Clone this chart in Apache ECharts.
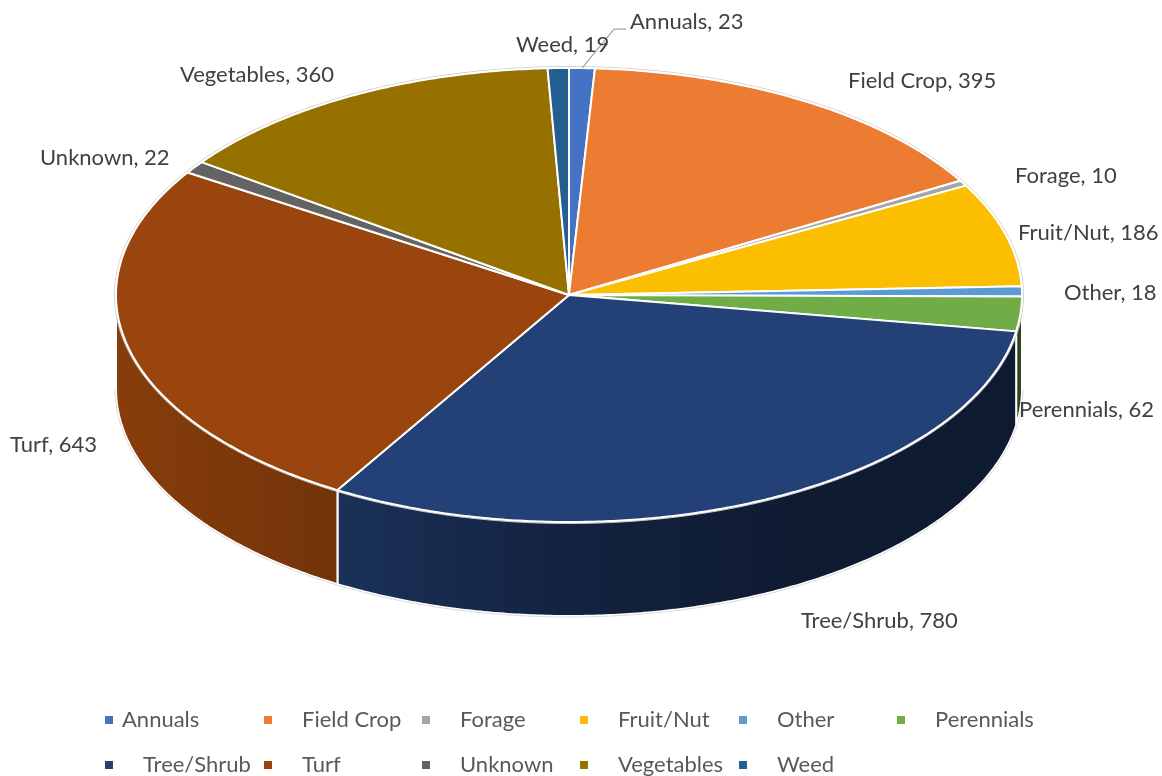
<!DOCTYPE html>
<html>
<head>
<meta charset="utf-8">
<title>Pie</title>
<script src="https://cdn.jsdelivr.net/npm/echarts@6/dist/echarts.min.js"></script>
<style>
    html, body { margin: 0; padding: 0; background: #fff; }
    #main { width: 1162px; height: 776px; }
</style>
</head>
<body>
<div id="main"></div>
<script>
'use strict';

var categories = ['Annuals', 'Field Crop', 'Forage', 'Fruit/Nut', 'Other', 'Perennials', 'Tree/Shrub', 'Turf', 'Unknown', 'Vegetables', 'Weed'];
var counts = [23, 395, 10, 186, 18, 62, 780, 643, 22, 360, 19];
var colors = ['#4472C4', '#EB7C31', '#A5A5A5', '#FBBE00', '#5B9BD5', '#70AD47', '#244177', '#99450D', '#636363', '#967100', '#255E91'];

// where the data labels sit, left edge and middle of the text
var labelSpots = [[630, 22], [848, 81], [1015, 176], [1018, 233], [1064, 293], [1019, 410], [801, 621], [10, 445], [40, 158], [180, 75], [516, 45]];
// legend icon left, row middle, gap before the text
var legendSpots = [[105, 720, 4], [264, 720, 25], [422, 720, 25], [580, 720, 25], [739, 720, 25], [897, 720, 25],
    [105, 765, 25], [264, 765, 25], [422, 765, 25], [580, 765, 25], [739, 765, 25]];

var cx = 569, cy = 295, rx = 453, ry = 227, depth = 94;
var fontName = 'Lato, "Open Sans", sans-serif';

var total = counts.reduce(function(a, b){ return a + b; }, 0);

function pointAt(deg, dy, extra){
    var a = deg * Math.PI / 180;
    return [cx + (rx + (extra || 0)) * Math.sin(a), cy + (dy || 0) - (ry + (extra || 0)) * Math.cos(a)];
}

function arcPoints(from, to, dy, extra){
    var pts = [];
    var steps = Math.max(2, Math.ceil((to - from) * 2));
    for(var i = 0; i <= steps; i++){
        pts.push(pointAt(from + (to - from) * i / steps, dy, extra));
    }
    return pts;
}

function shaded(color, k){
    var c = echarts.color.parse(color);
    return 'rgb(' + Math.round(c[0] * k) + ',' + Math.round(c[1] * k) + ',' + Math.round(c[2] * k) + ')';
}

// side wall gets darker going left to right, same as the original lighting
function wallFill(color){
    return new echarts.graphic.LinearGradient(cx - rx, 0, cx + rx, 0, [
        {offset: 0, color: shaded(color, 0.88)},
        {offset: 0.24, color: shaded(color, 0.75)},
        {offset: 0.5, color: shaded(color, 0.53)},
        {offset: 0.75, color: shaded(color, 0.41)},
        {offset: 1, color: shaded(color, 0.40)}
    ], true);
}

function renderSlice(params, api){
    var i = params.seriesIndex;
    var start = api.value(1) / total * 360;
    var end = (api.value(1) + api.value(0)) / total * 360;
    var children = [];

    // only the front half of the rim can be seen
    var wallFrom = Math.max(start, 90), wallTo = Math.min(end, 270);
    if(wallTo > wallFrom){
        var top = arcPoints(wallFrom, wallTo, 0);
        var bottom = arcPoints(wallFrom, wallTo, depth).reverse();
        children.push({
            type: 'polygon',
            shape: {points: top.concat(bottom)},
            style: {fill: wallFill(colors[i]), stroke: '#fff', lineWidth: 2}
        });
        children.push({
            type: 'polyline',
            shape: {points: arcPoints(wallFrom, wallTo, depth, 1)},
            style: {fill: null, stroke: '#d9d9d9', lineWidth: 1}
        });
    }

    children.push({
        type: 'polyline',
        shape: {points: arcPoints(start, end, 0, 1.5)},
        style: {fill: null, stroke: '#d0d0d0', lineWidth: 1}
    });
    children.push({
        type: 'polygon',
        shape: {points: [[cx, cy]].concat(arcPoints(start, end, 0))},
        style: {fill: colors[i], stroke: '#fff', lineWidth: 2, lineJoin: 'round'}
    });

    if(i === 0){
        var mid = pointAt((start + end) / 2, 0);
        children.push({
            type: 'polyline',
            shape: {points: [mid, [614, 29], [626, 29]]},
            style: {fill: null, stroke: '#a6a6a6', lineWidth: 1.25}
        });
    }

    children.push({
        type: 'text',
        x: labelSpots[i][0],
        y: labelSpots[i][1],
        style: {
            text: categories[i] + ', ' + api.value(0),
            fill: '#404040',
            font: '22px ' + fontName,
            align: 'left',
            verticalAlign: 'middle'
        }
    });

    return {type: 'group', children: children};
}

var running = 0;
var seriesList = categories.map(function(name, i){
    var row = [counts[i], running];
    running += counts[i];
    return {
        type: 'custom',
        name: name,
        coordinateSystem: 'none',
        renderItem: renderSlice,
        silent: true,
        animation: false,
        itemStyle: {color: colors[i]},
        encode: {},
        data: [row]
    };
});

var legends = categories.map(function(name, i){
    return {
        data: [name],
        left: legendSpots[i][0],
        top: legendSpots[i][1] - 13,
        padding: 0,
        selectedMode: false,
        icon: 'rect',
        itemWidth: 8,
        itemHeight: 8,
        textStyle: {
            color: '#595959',
            fontFamily: fontName,
            fontSize: 22,
            lineHeight: 26,
            padding: [0, 0, 0, legendSpots[i][2]]
        }
    };
});

var myChart = echarts.init(document.getElementById('main'));
myChart.setOption({
    animation: false,
    color: colors,
    legend: legends,
    series: seriesList
});
</script>
</body>
</html>
